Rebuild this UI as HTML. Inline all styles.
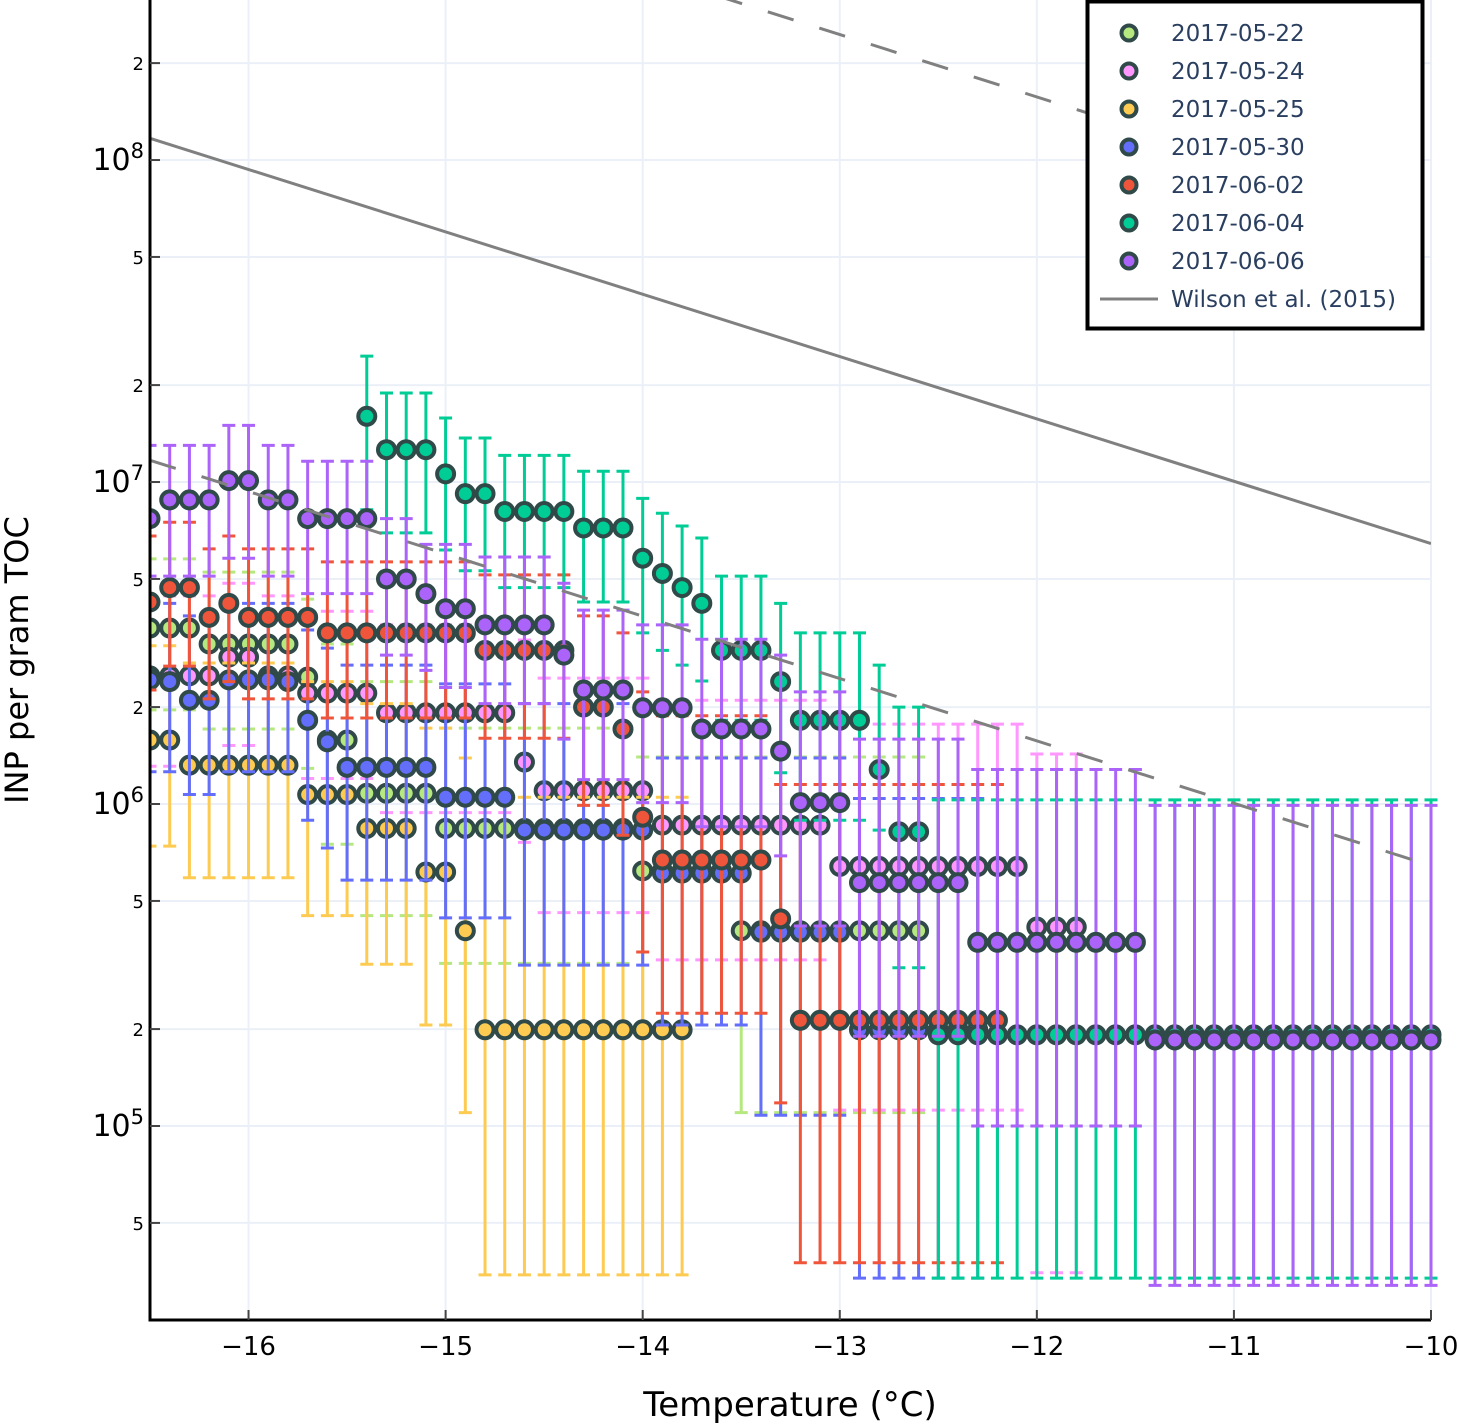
<!DOCTYPE html>
<html><head><meta charset="utf-8">
<style>
html,body{margin:0;padding:0;background:#fff;}
svg{display:block;font-family:"DejaVu Sans","Liberation Sans",sans-serif;}
</style></head>
<body>
<svg id="chart" width="1459" height="1424" viewBox="0 0 1459 1424" xmlns="http://www.w3.org/2000/svg">
<rect x="0" y="0" width="1459" height="1424" fill="#fff"/>
<g id="grid"></g>
<g id="series"></g>
<g id="axes"></g>
<g id="legend"></g>
</svg>
<script>
// ---- data ----
const xTicks = [-16, -15, -14, -13, -12, -11, -10];
const yDecades = [5, 6, 7, 8];
const yMinorMult = [2, 5];
const legendLabels = ["2017-05-22","2017-05-24","2017-05-25","2017-05-30","2017-06-02","2017-06-04","2017-06-06"];
const seriesColors = ["#b6e880","#ff97ff","#fecb52","#636efa","#ef553b","#00cc96","#ab63fa"];

// light green 2017-05-22, T from -16.5
const s0Start = -16.5;
const s0Vals = [3.52e6,3.52e6,3.52e6,3.14e6,3.14e6,3.14e6,3.14e6,3.14e6,2.48e6,1.58e6,1.58e6,1.08e6,1.08e6,1.08e6,1.08e6,8.4e5,8.4e5,8.4e5,8.4e5,8.4e5,8.4e5,8.4e5,8.4e5,8.4e5,8.4e5,6.2e5,6.2e5,6.2e5,6.2e5,6.2e5,4.04e5,4.04e5,4.04e5,4.04e5,4.04e5,4.04e5,4.04e5,4.04e5,4.04e5,4.04e5];
const s0Hi = [5.77e6,5.77e6,5.77e6,5.25e6,5.25e6,5.25e6,5.25e6,5.25e6,4.33e6,3.14e6,3.14e6,2.4e6,2.4e6,2.4e6,2.4e6,1.72e6,1.72e6,1.72e6,1.72e6,1.72e6,1.72e6,1.72e6,1.72e6,1.72e6,1.72e6,1.4e6,1.4e6,1.4e6,1.4e6,1.4e6,1.4e6,1.4e6,1.4e6,1.4e6,1.4e6,1.4e6,1.4e6,1.4e6,1.4e6,1.4e6];
const s0Lo = [1.96e6,1.96e6,1.96e6,1.71e6,1.71e6,1.71e6,1.71e6,1.71e6,1.29e6,7.5e5,7.5e5,4.5e5,4.5e5,4.5e5,4.5e5,3.2e5,3.2e5,3.2e5,3.2e5,3.2e5,3.2e5,3.2e5,3.2e5,3.2e5,3.2e5,2.06e5,2.06e5,2.06e5,2.06e5,2.06e5,1.1e5,1.1e5,1.1e5,1.1e5,1.1e5,1.1e5,1.1e5,1.1e5,1.1e5,1.1e5];

// pink 2017-05-24
const s1Start = -16.5;
const s1Vals = [2.5e6,2.5e6,2.5e6,2.5e6,2.86e6,2.86e6,2.5e6,2.5e6,2.21e6,2.21e6,2.21e6,2.21e6,1.92e6,1.92e6,1.92e6,1.92e6,1.92e6,1.92e6,1.92e6,1.35e6,1.1e6,1.1e6,1.1e6,1.1e6,1.1e6,1.1e6,8.6e5,8.6e5,8.6e5,8.6e5,8.6e5,8.6e5,8.6e5,8.6e5,8.6e5,6.4e5,6.4e5,6.4e5,6.4e5,6.4e5,6.4e5,6.4e5,6.4e5,6.4e5,6.4e5,4.15e5,4.15e5,4.15e5];
const s1Hi = [4.43e6,4.43e6,4.43e6,4.43e6,4.85e6,4.85e6,4.43e6,4.43e6,3.97e6,3.97e6,3.97e6,3.97e6,3.6e6,3.6e6,3.6e6,3.6e6,3.6e6,3.6e6,3.6e6,3.23e6,2.46e6,2.46e6,2.46e6,2.46e6,2.46e6,2.46e6,2.1e6,2.1e6,2.1e6,2.1e6,2.1e6,2.1e6,2.1e6,2.1e6,2.1e6,1.77e6,1.77e6,1.77e6,1.77e6,1.77e6,1.77e6,1.77e6,1.77e6,1.77e6,1.77e6,1.43e6,1.43e6,1.43e6];
const s1Lo = [1.31e6,1.31e6,1.31e6,1.31e6,1.52e6,1.52e6,1.31e6,1.31e6,1.2e6,1.2e6,1.2e6,1.2e6,9.4e5,9.4e5,9.4e5,9.4e5,9.4e5,9.4e5,9.4e5,7.6e5,4.6e5,4.6e5,4.6e5,4.6e5,4.6e5,4.6e5,3.28e5,3.28e5,3.28e5,3.28e5,3.28e5,3.28e5,3.28e5,3.28e5,3.28e5,1.12e5,1.12e5,1.12e5,1.12e5,1.12e5,1.12e5,1.12e5,1.12e5,1.12e5,1.12e5,3.5e4,3.5e4,3.5e4];

// yellow 2017-05-25
const s2Start = -16.5;
const s2Vals = [1.58e6,1.58e6,1.32e6,1.32e6,1.32e6,1.32e6,1.32e6,1.32e6,1.07e6,1.07e6,1.07e6,8.4e5,8.4e5,8.4e5,6.15e5,6.15e5,4.04e5,1.99e5,1.99e5,1.99e5,1.99e5,1.99e5,1.99e5,1.99e5,1.99e5,1.99e5,1.99e5,1.99e5];
const s2Hi = [3.1e6,3.1e6,2.74e6,2.74e6,2.74e6,2.74e6,2.74e6,2.74e6,2.4e6,2.4e6,2.4e6,2.05e6,2.05e6,2.05e6,1.72e6,1.72e6,1.39e6,1.05e6,1.05e6,1.05e6,1.05e6,1.05e6,1.05e6,1.05e6,1.05e6,1.05e6,1.05e6,1.05e6];
const s2Lo = [7.4e5,7.4e5,5.9e5,5.9e5,5.9e5,5.9e5,5.9e5,5.9e5,4.5e5,4.5e5,4.5e5,3.18e5,3.18e5,3.18e5,2.06e5,2.06e5,1.1e5,3.45e4,3.45e4,3.45e4,3.45e4,3.45e4,3.45e4,3.45e4,3.45e4,3.45e4,3.45e4,3.45e4];

// blue 2017-05-30
const s3Start = -16.5;
const s3Vals = [2.43e6,2.4e6,2.1e6,2.1e6,2.43e6,2.43e6,2.43e6,2.4e6,1.82e6,1.56e6,1.3e6,1.3e6,1.3e6,1.3e6,1.3e6,1.05e6,1.05e6,1.05e6,1.05e6,8.3e5,8.3e5,8.3e5,8.3e5,8.3e5,8.3e5,8.3e5,6.1e5,6.1e5,6.1e5,6.1e5,6.1e5,4.0e5,4.0e5,4.0e5,4.0e5,4.0e5,1.99e5,1.99e5,1.99e5,1.99e5,1.99e5,1.99e5,1.99e5];
const s3Hi = [4.2e6,4.2e6,3.84e6,3.84e6,4.2e6,4.2e6,4.2e6,4.2e6,3.47e6,3.05e6,2.7e6,2.7e6,2.7e6,2.7e6,2.7e6,2.36e6,2.36e6,2.36e6,2.36e6,2.05e6,2.05e6,2.05e6,2.05e6,2.05e6,2.05e6,2.05e6,1.39e6,1.39e6,1.39e6,1.39e6,1.39e6,1.39e6,1.39e6,1.39e6,1.39e6,1.39e6,1.04e6,1.04e6,1.04e6,1.04e6,1.04e6,1.04e6,1.04e6];
const s3Lo = [1.26e6,1.26e6,1.07e6,1.07e6,1.26e6,1.26e6,1.26e6,1.26e6,8.9e5,7.3e5,5.8e5,5.8e5,5.8e5,5.8e5,5.8e5,4.43e5,4.43e5,4.43e5,4.43e5,3.16e5,3.16e5,3.16e5,3.16e5,3.16e5,3.16e5,3.16e5,2.06e5,2.06e5,2.06e5,2.06e5,2.06e5,1.08e5,1.08e5,1.08e5,1.08e5,1.08e5,3.37e4,3.37e4,3.37e4,3.37e4,3.37e4,3.37e4,3.37e4];

// red 2017-06-02
const s4Start = -16.5;
const s4Vals = [4.24e6,4.7e6,4.7e6,3.8e6,4.2e6,3.8e6,3.8e6,3.8e6,3.8e6,3.4e6,3.4e6,3.4e6,3.4e6,3.4e6,3.4e6,3.4e6,3.4e6,3.0e6,3.0e6,3.0e6,3.0e6,3.0e6,2.0e6,2.0e6,1.71e6,9.1e5,6.7e5,6.7e5,6.7e5,6.7e5,6.7e5,6.7e5,4.4e5,2.13e5,2.13e5,2.13e5,2.13e5,2.13e5,2.13e5,2.13e5,2.13e5,2.13e5,2.13e5,2.13e5];
const s4Hi = [6.8e6,7.5e6,7.5e6,6.2e6,6.8e6,6.2e6,6.2e6,6.2e6,6.2e6,5.65e6,5.65e6,5.65e6,5.65e6,5.65e6,5.65e6,5.65e6,5.65e6,5.15e6,5.15e6,5.15e6,5.15e6,5.15e6,3.84e6,3.84e6,3.4e6,2.23e6,1.88e6,1.88e6,1.88e6,1.88e6,1.88e6,1.88e6,1.15e6,1.15e6,1.15e6,1.15e6,1.15e6,1.15e6,1.15e6,1.15e6,1.15e6,1.15e6,1.15e6,1.15e6];
const s4Lo = [2.26e6,2.68e6,2.68e6,2.12e6,2.4e6,2.12e6,2.12e6,2.12e6,2.12e6,1.85e6,1.85e6,1.85e6,1.85e6,1.85e6,1.85e6,1.85e6,1.85e6,1.6e6,1.6e6,1.6e6,1.6e6,1.6e6,9.9e5,9.9e5,8.0e5,3.47e5,2.24e5,2.24e5,2.24e5,2.24e5,2.24e5,2.24e5,1.18e5,3.76e4,3.76e4,3.76e4,3.76e4,3.76e4,3.76e4,3.76e4,3.76e4,3.76e4,3.76e4,3.76e4];

// green 2017-06-04
const s5Start = -15.4;
const s5Vals = [1.6e7,1.26e7,1.26e7,1.26e7,1.06e7,9.2e6,9.2e6,8.1e6,8.1e6,8.1e6,8.1e6,7.2e6,7.2e6,7.2e6,5.8e6,5.2e6,4.7e6,4.2e6,3.0e6,3.0e6,3.0e6,2.4e6,1.82e6,1.82e6,1.82e6,1.82e6,1.28e6,8.2e5,8.2e5,1.92e5,1.92e5,1.92e5,1.92e5,1.92e5,1.92e5,1.92e5,1.92e5,1.92e5,1.92e5,1.92e5,1.92e5,1.92e5,1.92e5,1.92e5,1.92e5,1.92e5,1.92e5,1.92e5,1.92e5,1.92e5,1.92e5,1.92e5,1.92e5,1.92e5,1.92e5];
const s5Hi = [2.46e7,1.89e7,1.89e7,1.89e7,1.58e7,1.37e7,1.37e7,1.21e7,1.21e7,1.21e7,1.21e7,1.08e7,1.08e7,1.08e7,8.9e6,8.0e6,7.3e6,6.7e6,5.1e6,5.1e6,5.1e6,4.2e6,3.4e6,3.4e6,3.4e6,3.4e6,2.7e6,2.0e6,2.0e6,1.03e6,1.03e6,1.03e6,1.03e6,1.03e6,1.03e6,1.03e6,1.03e6,1.03e6,1.03e6,1.03e6,1.03e6,1.03e6,1.03e6,1.03e6,1.03e6,1.03e6,1.03e6,1.03e6,1.03e6,1.03e6,1.03e6,1.03e6,1.03e6,1.03e6,1.03e6];
const s5Lo = [8.2e6,6.95e6,6.95e6,6.95e6,6.15e6,5.3e6,5.3e6,4.7e6,4.7e6,4.7e6,4.7e6,4.24e6,4.24e6,4.24e6,3.4e6,3.0e6,2.7e6,2.41e6,1.82e6,1.82e6,1.82e6,1.25e6,8.9e5,8.9e5,8.9e5,8.9e5,8.3e5,3.1e5,3.1e5,3.37e4,3.37e4,3.37e4,3.37e4,3.37e4,3.37e4,3.37e4,3.37e4,3.37e4,3.37e4,3.37e4,3.37e4,3.37e4,3.37e4,3.37e4,3.37e4,3.37e4,3.37e4,3.37e4,3.37e4,3.37e4,3.37e4,3.37e4,3.37e4,3.37e4,3.37e4];

// purple 2017-06-06
const s6Start = -16.5;
const s6Vals = [7.7e6,8.8e6,8.8e6,8.8e6,1.01e7,1.01e7,8.8e6,8.8e6,7.7e6,7.7e6,7.7e6,7.7e6,5.0e6,5.0e6,4.5e6,4.04e6,4.04e6,3.6e6,3.6e6,3.6e6,3.6e6,2.9e6,2.26e6,2.26e6,2.26e6,1.99e6,1.99e6,1.99e6,1.71e6,1.71e6,1.71e6,1.71e6,1.46e6,1.01e6,1.01e6,1.01e6,5.7e5,5.7e5,5.7e5,5.7e5,5.7e5,5.7e5,3.72e5,3.72e5,3.72e5,3.72e5,3.72e5,3.72e5,3.72e5,3.72e5,3.72e5,1.85e5,1.85e5,1.85e5,1.85e5,1.85e5,1.85e5,1.85e5,1.85e5,1.85e5,1.85e5,1.85e5,1.85e5,1.85e5,1.85e5,1.85e5];
const s6Hi = [1.3e7,1.3e7,1.3e7,1.3e7,1.5e7,1.5e7,1.3e7,1.3e7,1.16e7,1.16e7,1.16e7,1.16e7,7.7e6,7.7e6,6.4e6,6.4e6,6.4e6,5.85e6,5.85e6,5.85e6,5.85e6,4.85e6,4.0e6,4.0e6,4.0e6,3.6e6,3.6e6,3.6e6,3.25e6,3.25e6,3.25e6,3.25e6,2.9e6,2.23e6,2.23e6,2.23e6,1.59e6,1.59e6,1.59e6,1.59e6,1.59e6,1.59e6,1.28e6,1.28e6,1.28e6,1.28e6,1.28e6,1.28e6,1.28e6,1.28e6,1.28e6,9.9e5,9.9e5,9.9e5,9.9e5,9.9e5,9.9e5,9.9e5,9.9e5,9.9e5,9.9e5,9.9e5,9.9e5,9.9e5,9.9e5,9.9e5];
const s6Lo = [5.1e6,5.1e6,5.1e6,5.1e6,5.8e6,5.8e6,5.1e6,5.1e6,4.5e6,4.5e6,4.5e6,4.5e6,2.9e6,2.9e6,2.6e6,2.3e6,2.3e6,2.05e6,2.05e6,2.05e6,2.05e6,1.59e6,1.19e6,1.19e6,1.19e6,1.01e6,1.01e6,1.01e6,8.5e5,8.5e5,8.5e5,8.5e5,6.9e5,4.18e5,4.18e5,4.18e5,1.9e5,1.9e5,1.9e5,1.9e5,1.9e5,1.9e5,1.0e5,1.0e5,1.0e5,1.0e5,1.0e5,1.0e5,1.0e5,1.0e5,1.0e5,3.2e4,3.2e4,3.2e4,3.2e4,3.2e4,3.2e4,3.2e4,3.2e4,3.2e4,3.2e4,3.2e4,3.2e4,3.2e4,3.2e4,3.2e4];

// Wilson et al. (2015) parameterisation: ns = exp(A - B*T)
const wilsonA = [11.2186];
const wilsonB = [0.4459];
const wilsonT = [-16.5, -10];
const wilsonScale = [1, 0.1, 10];

// ---- scales ----
const PL = 150, PR = 1431, PT = 0, PB = 1320;
const xMin = -16.5, xMax = -10;
const yLogMin = 4.3975, yLogMax = 8.497;
function sx(t){ return PL + (t - xMin) / (xMax - xMin) * (PR - PL); }
function sy(v){ return PB - (Math.log10(v) - yLogMin) / (yLogMax - yLogMin) * (PB - PT); }

const NS = "http://www.w3.org/2000/svg";
function mk(tag, attrs, parent){
  const e = document.createElementNS(NS, tag);
  for (const k in attrs) e.setAttribute(k, attrs[k]);
  parent.appendChild(e);
  return e;
}

// grid
const grid = document.getElementById('grid');
xTicks.forEach(t => {
  const l = mk('line', {x1:sx(t), x2:sx(t), y1:PT, y2:PB, stroke:'#ebf0f8', 'stroke-width':2}, grid);
  
  
});
const yTickVals = [];
yDecades.forEach(d => {
  yTickVals.push({v:Math.pow(10,d), major:true, d:d});
  yMinorMult.forEach(m => { const v = m*Math.pow(10,d); if (Math.log10(v) < yLogMax) yTickVals.push({v:v, major:false, m:m}); });
});
yMinorMult.forEach(m => yTickVals.push({v:m*Math.pow(10,4), major:false, m:m}));
yTickVals.forEach(o => {
  if (Math.log10(o.v) < yLogMin) return;
  const y = sy(o.v);
  const l = mk('line', {x1:PL, x2:PR, y1:y, y2:y, stroke:'#ebf0f8', 'stroke-width':2}, grid);
  
  
});

// series
const seriesLayer = document.getElementById('series');
const allSeries = [
  [s0Start, s0Vals, s0Hi, s0Lo],
  [s1Start, s1Vals, s1Hi, s1Lo],
  [s2Start, s2Vals, s2Hi, s2Lo],
  [s3Start, s3Vals, s3Hi, s3Lo],
  [s4Start, s4Vals, s4Hi, s4Lo],
  [s5Start, s5Vals, s5Hi, s5Lo],
  [s6Start, s6Vals, s6Hi, s6Lo]
];
const clip = mk('clipPath', {id:'plotclip'}, mk('defs', {}, seriesLayer));
mk('rect', {x:PL, y:PT, width:PR-PL+12, height:PB-PT}, clip);
allSeries.forEach((s, si) => {
  const g = mk('g', {'clip-path':'url(#plotclip)'}, seriesLayer);
  
  
  const col = seriesColors[si];
  s[1].forEach((v, i) => {
    const t = s[0] + i * 0.1;
    const x = sx(t);
    const yh = sy(s[2][i]), yl = sy(s[3][i]);
    const eb = mk('path', {d:`M${x},${yh}V${yl}M${x-6.5},${yh}H${x+6.5}M${x-6.5},${yl}H${x+6.5}`, stroke:col, 'stroke-width':3, fill:'none'}, g);
    
    
  });
  s[1].forEach((v, i) => {
    const t = s[0] + i * 0.1;
    const c = mk('circle', {cx:sx(t), cy:sy(v), r:8.5, fill:col, stroke:'#2f4a48', 'stroke-width':4}, g);
    
    
  });
});

// wilson lines
const wilsonClip = mk('clipPath', {id:'wclip'}, mk('defs', {}, seriesLayer));
mk('rect', {x:PL, y:PT, width:PR-PL, height:PB-PT}, wilsonClip);
wilsonScale.forEach((sc, k) => {
  const pts = wilsonT.map(t => sx(t) + ',' + sy(sc * Math.exp(wilsonA[0] - wilsonB[0] * t)));
  const l = mk('polyline', {points:pts.join(' '), fill:'none', stroke:'#808080', 'stroke-width':3, 'clip-path':'url(#wclip)'}, seriesLayer);
  if (k !== 0) l.setAttribute('stroke-dasharray', '27,27');
  
  
});

// axes
const axes = document.getElementById('axes');
const al = mk('path', {d:`M${PL},${PT}V${PB}H${PR}`, stroke:'#000', 'stroke-width':3, fill:'none'}, axes);


xTicks.forEach(t => {
  const x = sx(t);
  const tk = mk('line', {x1:x, x2:x, y1:PB-10, y2:PB, stroke:'#444', 'stroke-width':2}, axes);
  
  
  const tx = mk('text', {x:x, y:1355, 'text-anchor':'middle', 'font-size':26, fill:'#000'}, axes);
  tx.textContent = '\u2212' + Math.abs(t);
  
  
});
yTickVals.forEach(o => {
  if (Math.log10(o.v) < yLogMin) return;
  const y = sy(o.v);
  const tk = mk('line', {x1:PL, x2:PL+10, y1:y, y2:y, stroke:'#444', 'stroke-width':2}, axes);
  
  
  const tx = mk('text', {x:o.major ? 144 : 144, y:y + (o.major ? 10 : 7), 'text-anchor':'end', 'font-size':o.major ? 30 : 18, fill:'#000'}, axes);
  if (o.major) {
    tx.textContent = '10';
    const sup = mk('tspan', {dy:-12, 'font-size':21}, tx);
    sup.textContent = String(o.d);
    
  } else {
    tx.textContent = String(o.m);
    
  }
  
});
const xt = mk('text', {x:790, y:1416, 'text-anchor':'middle', 'font-size':34, fill:'#000'}, axes);
xt.textContent = 'Temperature (°C)';


const yt = mk('text', {x:0, y:0, 'text-anchor':'middle', 'font-size':32, fill:'#000', transform:'translate(28,660) rotate(-90)'}, axes);
yt.textContent = 'INP per gram TOC';



// legend
const leg = document.getElementById('legend');
const box = mk('rect', {x:1087.5, y:1.5, width:335, height:327, fill:'#fff', stroke:'#000', 'stroke-width':4}, leg);


legendLabels.forEach((lab, i) => {
  const y = 33 + i * 38;
  const g = mk('g', {}, leg);
  
  
  mk('circle', {cx:1129, cy:y, r:7.5, fill:seriesColors[i], stroke:'#2f4a48', 'stroke-width':4}, g);
  const t = mk('text', {x:1171, y:y + 8, 'font-size':23, fill:'#2a3f5f'}, g);
  t.textContent = lab;
});
const wg = mk('g', {}, leg);


mk('line', {x1:1100, x2:1158, y1:299, y2:299, stroke:'#808080', 'stroke-width':3}, wg);
const wt = mk('text', {x:1171, y:307, 'font-size':23, fill:'#2a3f5f'}, wg);
wt.textContent = 'Wilson et al. (2015)';
</script>
</body></html>
